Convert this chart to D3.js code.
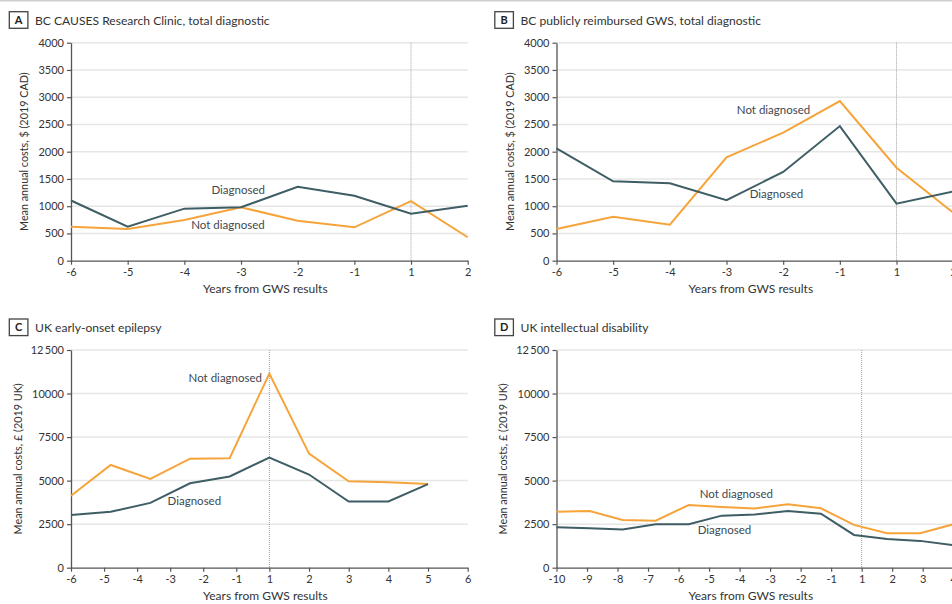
<!DOCTYPE html>
<html>
<head>
<meta charset="utf-8">
<script src="https://cdn.jsdelivr.net/npm/d3@7"></script>
<style>
  html, body { margin: 0; padding: 0; background: #fff; }
  svg { display: block; font-family: Lato, "Open Sans", sans-serif; }
</style>
</head>
<body>
<svg id="chart" width="952" height="604"></svg>
<script>
// ---------- DATA ----------
// Panel A: BC CAUSES Research Clinic (2019 CAD)
const aYears = ["-6", "-5", "-4", "-3", "-2", "-1", "1", "2"];
const aDiagnosed = [1105, 625, 955, 980, 1355, 1190, 862, 1008];
const aNotDiagnosed = [625, 582, 748, 980, 732, 612, 1092, 430];

// Panel B: BC publicly reimbursed GWS (2019 CAD)
const bYears = ["-6", "-5", "-4", "-3", "-2", "-1", "1", "2"];
const bDiagnosed = [2062, 1457, 1420, 1112, 1628, 2470, 1046, 1270];
const bNotDiagnosed = [582, 807, 660, 1897, 2349, 2930, 1706, 880];

// Panel C: UK early-onset epilepsy (2019 UK £)
// pre-period ticks (-6..-1, 1) share the left half of the axis, post-period ticks (1..6) the right half
const cPreTicks = [-6, -5, -4, -3, -2, -1, 1];
const cPostTicks = [1, 2, 3, 4, 5, 6];
const cDataSpan = [-6, 5];
const cDiagnosed = [3030, 3210, 3720, 4850, 5240, 6320, 5350, 3800, 3800, 4800];
const cNotDiagnosed = [4130, 5900, 5100, 6260, 6290, 11150, 6550, 4960, 4910, 4800];

// Panel D: UK intellectual disability (2019 UK £)
const dTicks = ["-10", "-9", "-8", "-7", "-6", "-5", "-4", "-3", "-2", "-1", "1", "2", "3", "4"];
const dDataSpan = ["-10", "4"];
const dDiagnosed = [2320, 2270, 2200, 2490, 2490, 2990, 3060, 3250, 3100, 1880, 1650, 1540, 1300];
const dNotDiagnosed = [3210, 3250, 2740, 2700, 3600, 3480, 3400, 3640, 3410, 2460, 1980, 1980, 2490];

// Y ticks
const cadTicks = [0, 500, 1000, 1500, 2000, 2500, 3000, 3500, 4000];
const cadTickLabels = ["0", "500", "1000", "1500", "2000", "2500", "3000", "3500", "4000"];
const gbpTicks = [0, 2500, 5000, 7500, 10000, 12500];
const gbpTickLabels = ["0", "2500", "5000", "7500", "10000", "12\u2009500"];

const colors = { "Diagnosed": "#3e5d64", "Not diagnosed": "#f6a43a" };

// ---------- DRAW ----------
const svg = d3.select("#chart");

svg.append("line").attr("x1", 0).attr("x2", 952).attr("y1", 0.75).attr("y2", 0.75)
  .attr("stroke", "#cfcfcf").attr("stroke-width", 1.5);

const panels = [
  { letter: "A", title: "BC CAUSES Research Clinic, total diagnostic",
    left: 71, right: 467.7, top: 42.7, bottom: 260.7,
    yMax: 4000, yTicks: cadTicks, yLabels: cadTickLabels,
    yTitle: "Mean annual costs, $ (2019 CAD)", yTitleOff: 43,
    kind: "cat", xLabels: aYears,
    diag: aDiagnosed, notd: aNotDiagnosed, refTick: "1",
    labels: [{ s: "Diagnosed", i: 2.95, v: 1224 }, { s: "Not diagnosed", i: 2.77, v: 582 }] },
  { letter: "B", title: "BC publicly reimbursed GWS, total diagnostic",
    left: 556.5, right: 953.2, top: 42.7, bottom: 260.7,
    yMax: 4000, yTicks: cadTicks, yLabels: cadTickLabels,
    yTitle: "Mean annual costs, $ (2019 CAD)", yTitleOff: 43,
    kind: "cat", xLabels: bYears,
    diag: bDiagnosed, notd: bNotDiagnosed, refTick: "1",
    labels: [{ s: "Not diagnosed", i: 3.83, v: 2692 }, { s: "Diagnosed", i: 3.88, v: 1150 }] },
  { letter: "C", title: "UK early-onset epilepsy",
    left: 71, right: 467.7, top: 350, bottom: 567.7,
    yMax: 12500, yTicks: gbpTicks, yLabels: gbpTickLabels,
    yTitle: "Mean annual costs, \u00a3 (2019 UK)", yTitleOff: 49.5,
    kind: "split", pre: cPreTicks, post: cPostTicks, span: cDataSpan,
    diag: cDiagnosed, notd: cNotDiagnosed, refTick: 1,
    labels: [{ s: "Not diagnosed", i: 3.89, v: 10662 }, { s: "Diagnosed", i: 3.11, v: 3600 }] },
  { letter: "D", title: "UK intellectual disability",
    left: 556.5, right: 953.2, top: 350, bottom: 567.7,
    yMax: 12500, yTicks: gbpTicks, yLabels: gbpTickLabels,
    yTitle: "Mean annual costs, \u00a3 (2019 UK)", yTitleOff: 50,
    kind: "cat", xLabels: dTicks, span: dDataSpan,
    diag: dDiagnosed, notd: dNotDiagnosed, refTick: "1",
    labels: [{ s: "Not diagnosed", i: 5.44, v: 4002 }, { s: "Diagnosed", i: 5.08, v: 1935 }] }
];

panels.forEach(p => {
  const g = svg.append("g");

  // Title with boxed letter
  g.append("rect").attr("x", p.left - 61.7).attr("y", p.top - 31).attr("width", 18.6).attr("height", 16.6)
    .attr("fill", "#fff").attr("stroke", "#444").attr("stroke-width", 1.3);
  g.append("text").attr("x", p.left - 61.7 + 9.3).attr("y", p.top - 18.6)
    .attr("text-anchor", "middle").attr("font-size", 11).attr("font-weight", 700).attr("fill", "#222")
    .text(p.letter);
  g.append("text").attr("x", p.left - 36).attr("y", p.top - 17.7)
    .attr("font-size", 12.1).attr("fill", "#333").text(p.title);

  // Scales
  const y = d3.scaleLinear().domain([0, p.yMax]).range([p.bottom, p.top]);
  let xAxisScale, xData, tickVals = null;
  if (p.kind === "cat") {
    xAxisScale = d3.scalePoint().domain(p.xLabels).range([p.left, p.right]);
    const x0 = p.span ? xAxisScale(p.span[0]) : p.left;
    const x1 = p.span ? xAxisScale(p.span[1]) : p.right;
    xData = d3.scalePoint().domain(d3.range(p.diag.length)).range([x0, x1]);
  } else {
    const mid = (p.left + p.right) / 2;
    const preScale = d3.scalePoint().domain(p.pre).range([p.left, mid]);
    const postScale = d3.scalePoint().domain(p.post).range([mid, p.right]);
    const preLast = p.pre[p.pre.length - 2];
    xAxisScale = d3.scaleLinear()
      .domain([p.pre[0], preLast, p.refTick, p.post[p.post.length - 1]])
      .range([p.left, preScale(preLast), mid, p.right]);
    tickVals = Array.from(new Set(p.pre.concat(p.post)));
    xData = d3.scalePoint().domain(d3.range(p.diag.length))
      .range([xAxisScale(p.span[0]), xAxisScale(p.span[1])]);
  }

  // Gridlines
  g.append("g").selectAll("line").data(p.yTicks.filter(d => d > 0)).join("line")
    .attr("x1", p.left).attr("x2", p.right)
    .attr("y1", d => y(d)).attr("y2", d => y(d))
    .attr("stroke", "#e6e6e6").attr("stroke-width", 1.5);

  // Reference dotted line
  const rx = xAxisScale(p.refTick);
  g.append("line").attr("x1", rx).attr("x2", rx).attr("y1", p.top).attr("y2", p.bottom)
    .attr("stroke", "#a0a0a0").attr("stroke-width", 1).attr("stroke-dasharray", "1,1");

  // Axes
  const yAxis = d3.axisLeft(y).tickValues(p.yTicks).tickSize(4).tickSizeOuter(0).tickPadding(3)
    .tickFormat((d, i) => p.yLabels[i]);
  const yg = g.append("g").attr("transform", `translate(${p.left},0)`).call(yAxis);

  let xAxis = d3.axisBottom(xAxisScale).tickSize(4).tickSizeOuter(0).tickPadding(4);
  if (tickVals) xAxis = xAxis.tickValues(tickVals).tickFormat(d => String(d));
  const xg = g.append("g").attr("transform", `translate(0,${p.bottom})`).call(xAxis);

  [yg, xg].forEach(ax => {
    ax.select(".domain").attr("stroke", "#555").attr("stroke-width", 1.3);
    ax.selectAll(".tick line").attr("stroke", "#555").attr("stroke-width", 1.2);
    ax.selectAll(".tick text").attr("fill", "#333").attr("font-size", 11)
      .attr("font-family", "Lato, 'Open Sans', sans-serif");
  });

  // Axis titles
  g.append("text").attr("x", (p.left + p.right) / 2 - 4).attr("y", p.bottom + 32.5)
    .attr("text-anchor", "middle").attr("font-size", 12).attr("fill", "#333")
    .text("Years from GWS results");
  g.append("text")
    .attr("transform", `translate(${p.left - p.yTitleOff},${(p.top + p.bottom) / 2}) rotate(-90)`)
    .attr("text-anchor", "middle").attr("font-size", 10.8).attr("fill", "#333")
    .text(p.yTitle);

  // Lines
  const line = d3.line().x((d, i) => xData(i)).y(d => y(d));
  [["Not diagnosed", p.notd], ["Diagnosed", p.diag]].forEach(([name, vals]) => {
    g.append("path").datum(vals).attr("d", line)
      .attr("fill", "none").attr("stroke", colors[name]).attr("stroke-width", 2)
      .attr("stroke-linejoin", "miter");
  });

  // Inline series labels (anchored in data units)
  p.labels.forEach(l => {
    g.append("text")
      .attr("x", xData.range()[0] + l.i * xData.step())
      .attr("y", y(l.v))
      .attr("text-anchor", "middle").attr("font-size", 11.5).attr("fill", "#3d4850")
      .text(l.s);
  });
});
</script>
</body>
</html>
